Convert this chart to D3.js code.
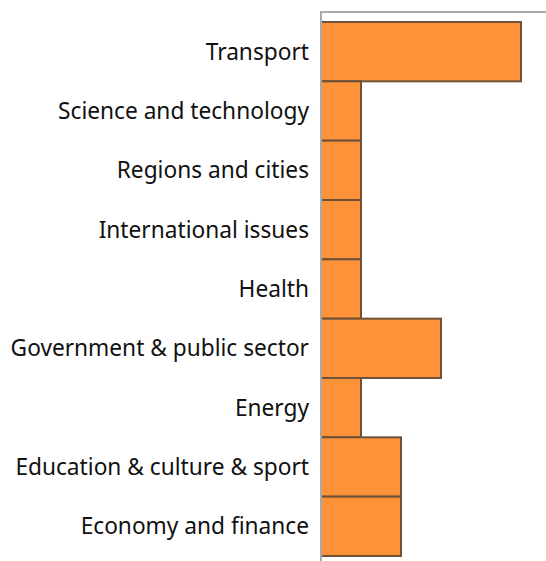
<html>
<script src="https://d3js.org/d3.v7.min.js"></script>
<style>
  body { margin: 0; }
  svg text { font-family: "Noto Sans", sans-serif; font-size: 22.7px; fill: #111; }
</style>
<body>
<svg width="546" height="561"></svg>
<script>
var categories = ["Transport", "Science and technology", "Regions and cities", "International issues", "Health", "Government & public sector", "Energy", "Education & culture & sport", "Economy and finance"];
var values = [5, 1, 1, 1, 1, 3, 1, 2, 2];

var svg = d3.select("svg");
var leftX = 321, topY = 22, bottomY = 556;

var x = d3.scaleLinear().domain([0, 5]).range([leftX, leftX + 200]);
var y = d3.scaleBand().domain(categories).range([topY, bottomY]).padding(0);

svg.selectAll("rect.bar")
  .data(categories)
  .enter()
  .append("rect")
  .attr("class", "bar")
  .attr("x", x(0))
  .attr("y", function (d) { return y(d); })
  .attr("width", function (d, i) { return x(values[i]) - x(0); })
  .attr("height", y.bandwidth())
  .attr("fill", "#fd9239")
  .attr("stroke", "#6e5138")
  .attr("stroke-width", 2);

svg.selectAll("text.label")
  .data(categories)
  .enter()
  .append("text")
  .attr("class", "label")
  .attr("x", leftX - 12)
  .attr("y", function (d) { return y(d) + y.bandwidth() / 2; })
  .attr("dy", "0.35em")
  .attr("text-anchor", "end")
  .text(function (d) { return d; });

// frame lines
svg.append("line")
  .attr("x1", leftX).attr("x2", 546)
  .attr("y1", 12).attr("y2", 12)
  .attr("stroke", "#aaa").attr("stroke-width", 2);
svg.append("line")
  .attr("x1", leftX).attr("x2", leftX)
  .attr("y1", 11).attr("y2", 561)
  .attr("stroke", "#aaa").attr("stroke-width", 2);
</script>
</body>
</html>
